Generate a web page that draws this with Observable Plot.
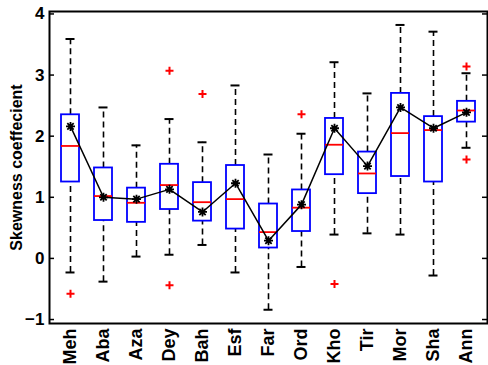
<!DOCTYPE html>
<html>
<head>
<meta charset="utf-8">
<script src="https://cdn.jsdelivr.net/npm/d3@7"></script>
<script src="https://cdn.jsdelivr.net/npm/@observablehq/plot@0.6"></script>
<style>
  html, body { margin: 0; padding: 0; background: #fff; }
  #chart svg { display: block; }
</style>
</head>
<body>
<div id="chart"></div>
<script>
// Station codes along the horizontal axis
const stations = ["Meh", "Aba", "Aza", "Dey", "Bah", "Esf", "Far", "Ord", "Kho", "Tir", "Mor", "Sha", "Ann"];

// Box-plot statistics of the skewness coefficient per station
const upperWhisker = [3.59, 2.47, 1.85, 2.28, 1.90, 2.83, 1.70, 2.04, 3.21, 2.70, 3.82, 3.71, 3.03];
const upperQuartile = [2.35, 1.48, 1.15, 1.54, 1.24, 1.52, 0.89, 1.12, 2.29, 1.74, 2.70, 2.32, 2.57];
const medians = [1.84, 1.02, 0.91, 1.20, 0.92, 0.97, 0.43, 0.83, 1.86, 1.39, 2.05, 2.10, 2.42];
const lowerQuartile = [1.25, 0.62, 0.59, 0.80, 0.61, 0.48, 0.17, 0.44, 1.37, 1.06, 1.34, 1.25, 2.23];
const lowerWhisker = [-0.23, -0.38, 0.03, 0.06, 0.22, -0.23, -0.84, -0.14, 0.39, 0.41, 0.39, -0.28, 1.81];
const means = [2.16, 1.00, 0.97, 1.13, 0.76, 1.23, 0.29, 0.88, 2.13, 1.51, 2.47, 2.13, 2.39];

// Outlying values
const outlierStation = ["Meh", "Dey", "Dey", "Bah", "Ord", "Kho", "Ann", "Ann"];
const outlierValue = [-0.58, 3.07, -0.44, 2.69, 2.36, -0.42, 3.14, 1.62];

// Y-axis ticks
const yTicks = [-1, 0, 1, 2, 3, 4];

const boxes = stations.map((s, i) => ({
  station: s,
  hi: upperWhisker[i],
  q3: upperQuartile[i],
  med: medians[i],
  q1: lowerQuartile[i],
  lo: lowerWhisker[i],
  mean: means[i]
}));
const outliers = outlierStation.map((s, i) => ({station: s, value: outlierValue[i]}));

// Line-drawn marker shapes
const plusSymbol = {
  draw(context, size) {
    const r = Math.sqrt(size / Math.PI);
    context.moveTo(-r, 0); context.lineTo(r, 0);
    context.moveTo(0, -r); context.lineTo(0, r);
  }
};
const asteriskSymbol = {
  draw(context, size) {
    const r = Math.sqrt(size / Math.PI);
    const d = r * Math.SQRT1_2;
    context.moveTo(-r, 0); context.lineTo(r, 0);
    context.moveTo(0, -r); context.lineTo(0, r);
    context.moveTo(-d, -d); context.lineTo(d, d);
    context.moveTo(-d, d); context.lineTo(d, -d);
  }
};

const font = "Arial, 'Liberation Sans', Helvetica, sans-serif";
const plotWidth = 488 - 49 - 1;

const chart = Plot.plot({
  width: 488,
  height: 365,
  marginLeft: 49,
  marginRight: 1,
  marginTop: 11,
  marginBottom: 42,
  style: {fontFamily: font, color: "black", background: "white"},
  x: {type: "band", domain: stations, paddingInner: 0.466, paddingOuter: 0.233},
  y: {domain: [-1.065, 4.04]},
  marks: [
    // whiskers
    Plot.ruleX(boxes, {x: "station", y1: "q3", y2: "hi", stroke: "black", strokeWidth: 1.6, strokeDasharray: "6,4"}),
    Plot.ruleX(boxes, {x: "station", y1: "lo", y2: "q1", stroke: "black", strokeWidth: 1.6, strokeDasharray: "6,4"}),
    Plot.tickY(boxes, {x: "station", y: "hi", stroke: "black", strokeWidth: 2, insetLeft: 4.5, insetRight: 4.5}),
    Plot.tickY(boxes, {x: "station", y: "lo", stroke: "black", strokeWidth: 2, insetLeft: 4.5, insetRight: 4.5}),
    // boxes
    Plot.barY(boxes, {x: "station", y1: "q1", y2: "q3", fill: "none", stroke: "#0000ff", strokeWidth: 1.8}),
    // medians
    Plot.tickY(boxes, {x: "station", y: "med", stroke: "#ff0000", strokeWidth: 1.8}),
    // outliers
    Plot.dot(outliers, {x: "station", y: "value", symbol: plusSymbol, r: 4, stroke: "#ff0000", strokeWidth: 2}),
    // means
    Plot.line(boxes, {x: "station", y: "mean", stroke: "black", strokeWidth: 1.5}),
    Plot.dot(boxes, {x: "station", y: "mean", symbol: asteriskSymbol, r: 4.5, stroke: "black", strokeWidth: 1.8}),
    // frame and inward ticks
    Plot.frame({stroke: "black", strokeWidth: 2}),
    Plot.ruleY(yTicks, {stroke: "black", strokeWidth: 1.5, insetRight: plotWidth - 5}),
    Plot.ruleY(yTicks, {stroke: "black", strokeWidth: 1.5, insetLeft: plotWidth - 5}),
    // axes
    Plot.axisY({
      ticks: yTicks, tickFormat: d3.format("d"), tickSize: 0, tickPadding: 5, fontSize: 17, fontWeight: "bold",
      label: null
    }),
    Plot.text(["Skewness coeffecient"], {
      frameAnchor: "left", dx: -33, rotate: -90, textAnchor: "middle",
      fontSize: 16, fontWeight: "bold", fill: "black"
    }),
    Plot.axisX({tickRotate: -90, tickSize: 0, tickPadding: 5, fontSize: 18, fontWeight: "bold", label: null})
  ]
});

document.getElementById("chart").appendChild(chart);
</script>
</body>
</html>
